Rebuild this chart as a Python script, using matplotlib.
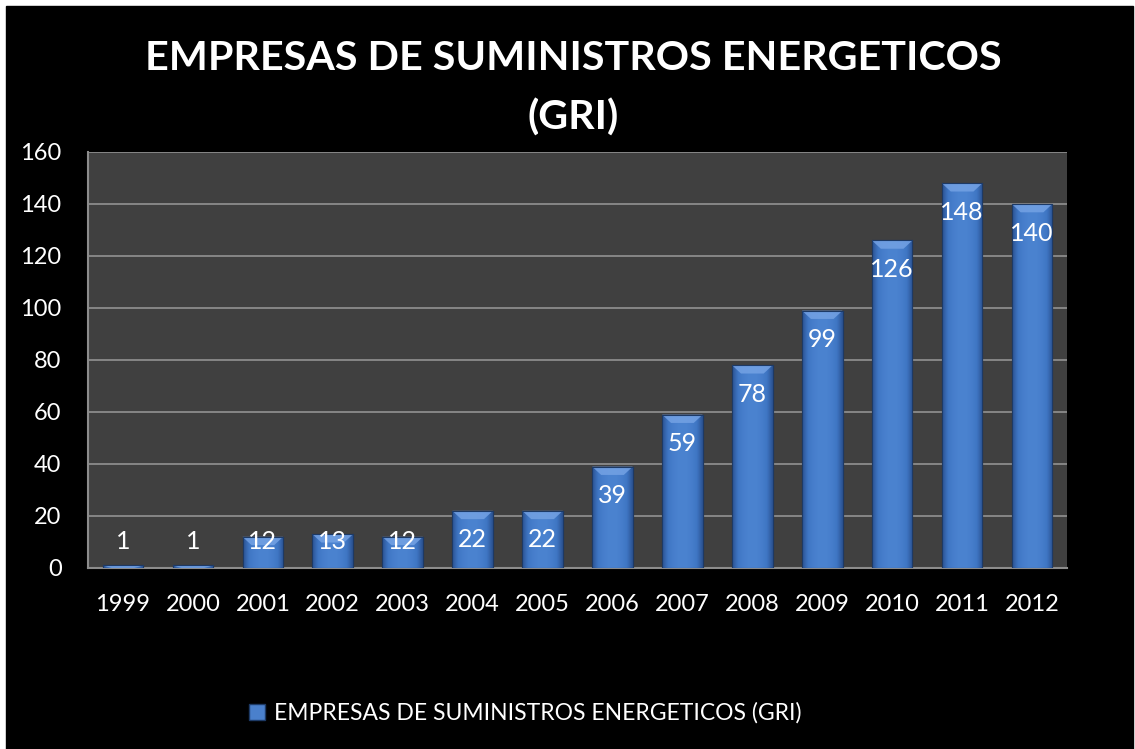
import numpy as np
import matplotlib.pyplot as plt
from matplotlib.patches import Rectangle, Polygon, Patch

years = ['1999', '2000', '2001', '2002', '2003', '2004', '2005',
         '2006', '2007', '2008', '2009', '2010', '2011', '2012']
empresas = [1, 1, 12, 13, 12, 22, 22, 39, 59, 78, 99, 126, 148, 140]
series_name = 'EMPRESAS DE SUMINISTROS ENERGETICOS (GRI)'
title = 'EMPRESAS DE SUMINISTROS ENERGETICOS\n(GRI)'
yticks = [0, 20, 40, 60, 80, 100, 120, 140, 160]

plt.rcParams['font.family'] = ['Lato', 'DejaVu Sans']

W, H = 1135, 749
fig = plt.figure(figsize=(W / 100, H / 100), dpi=100, facecolor='white')

# black chart area (white margin top/left like the source screenshot)
fig.patches.append(Rectangle((6 / W, 0), (W - 8) / W, 1 - 6 / H,
                             transform=fig.transFigure, color='black', zorder=-10))

ax = fig.add_axes([88 / W, 1 - 568 / H, (1067 - 88) / W, (568 - 152) / H])
ax.set_facecolor('#404040')

x = np.arange(len(years))
bw = 0.58
bars = ax.bar(x, empresas, width=bw, color='#3a6cb8', edgecolor='#1d3a66',
              linewidth=0.8, zorder=3)

# horizontal gradient inside each bar
grad = np.linspace(-1, 1, 64)
grad = 1 - np.abs(grad) ** 2
grad = np.vstack([grad, grad])
cmap = plt.matplotlib.colors.LinearSegmentedColormap.from_list(
    'bar', ['#2a5190', '#3f76c4', '#4b83d0'])
for rect, v in zip(bars, empresas):
    x0 = rect.get_x()
    x1 = x0 + rect.get_width()
    im = ax.imshow(grad, cmap=cmap, aspect='auto', extent=(x0, x1, 0, v),
                   zorder=3.5, interpolation='bicubic')
    im.set_clip_path(rect)
    # bevelled top cap
    cap = min(3.2, v)
    inset = rect.get_width() * 0.22
    ax.add_patch(Polygon([(x0, v), (x1, v), (x1 - inset, v - cap),
                          (x0 + inset, v - cap)],
                         closed=True, facecolor='#74a2e4', edgecolor='none',
                         alpha=0.85, zorder=4))
    ax.add_patch(Rectangle((x0, 0), rect.get_width(), v, fill=False,
                           edgecolor='#1d3a66', linewidth=0.8, zorder=4.5))

# value labels
for xi, v in zip(x, empresas):
    ax.text(xi, max(v - 11.2, 10.3), str(v), ha='center', va='center',
            color='white', fontsize=18, zorder=6)

ax.set_xlim(-0.5, len(years) - 0.5)
ax.set_ylim(0, 160)
ax.set_yticks(yticks)
ax.set_xticks(x)
ax.set_xticklabels(years)
ax.tick_params(colors='white', labelsize=17, length=0, pad=19)
ax.tick_params(axis='y', pad=19)
ax.yaxis.grid(True, color='#8c8c8c', linewidth=1.3, zorder=1)
ax.set_axisbelow(True)
for s in ['top', 'right']:
    ax.spines[s].set_visible(False)
for s in ['left', 'bottom']:
    ax.spines[s].set_color('#8c8c8c')
    ax.spines[s].set_linewidth(1.5)

fig.text(573 / W, 1 - 88 / H, title, ha='center', va='center', color='white',
         fontsize=29.7, fontweight='bold', linespacing=1.7)

leg = fig.legend(handles=[Patch(facecolor='#4a80cc', edgecolor='#1d3a66',
                                label=series_name)],
                 loc='center', bbox_to_anchor=(525 / W, 1 - 713 / H),
                 frameon=False, fontsize=16.5, handlelength=0.7, handleheight=0.7,
                 handletextpad=0.4)
for t in leg.get_texts():
    t.set_color('white')

fig.savefig('out.png', dpi=100, facecolor=fig.get_facecolor())
